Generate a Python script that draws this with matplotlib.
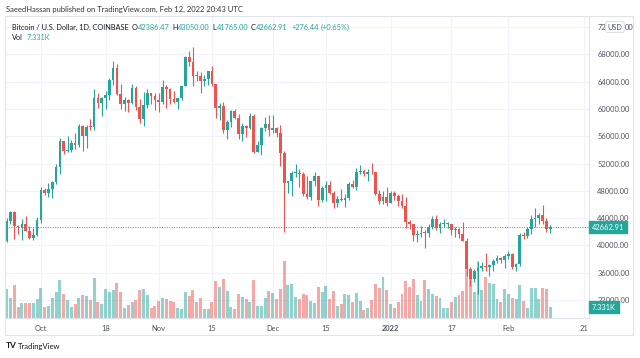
import numpy as np
import pandas as pd
import matplotlib
matplotlib.use('Agg')
import matplotlib.pyplot as plt
import matplotlib.dates as mdates
from matplotlib.transforms import blended_transform_factory
from matplotlib.patches import Rectangle

plt.rcParams['font.family'] = ['Lato', 'DejaVu Sans']

# daily candles, COINBASE BTC/USD
dates = pd.date_range('2021-09-22', '2022-02-12', freq='D')

opens = [40600, 43570, 44890, 42840, 42720, 43200, 42180, 41040, 41520,
         43790, 48140, 47660, 48230, 49250, 51500, 55340, 53800, 53950, 54960,
         54680, 57480, 56000, 57370, 57350, 61670, 60880, 61530, 62040, 64300,
         66000, 62250, 60690, 61310, 60860, 63080, 60330, 58450, 60600, 62270,
         61880,
         61320, 60950, 63230, 62930, 61440, 61010, 61530, 63300, 67550, 66940,
         64880, 64780, 64150, 64390, 65500, 63600, 60100, 60360, 56900, 58100,
         59700, 58700, 56280, 57560, 57150, 58960, 53730, 54720, 57270, 57800,
         56980, 57220, 56500, 53600, 49200, 49400, 50580, 50640, 50500, 47550,
         47150, 49400, 50100, 46700, 48350, 48900, 47650, 46200, 46850, 46700,
         46880, 48950, 48600, 50820, 50850, 50430, 50800, 50700, 47550, 46450,
         47150,
         46200, 47750, 47300, 46450, 45830, 43450, 43100, 41550, 41680, 41850,
         41820, 42730, 43900, 42590, 43100, 43180, 43200, 42230, 42380, 41680,
         40700, 36470, 35050, 36280, 36680, 36960, 36830, 37160, 37720, 38170,
         37920,
         38480, 38740, 36900, 37330, 41570, 41400, 42400, 43850, 44050, 44400,
         43550, 42386.47]
highs = [44000, 44980, 45100, 42960, 43940, 44350, 42780, 42600, 44100,
         48500, 48350, 49150, 49500, 51900, 55750, 55350, 56100, 55450, 56500,
         57800, 57650, 57700, 58500, 62900, 62350, 61700, 62600, 64500, 67000,
         66650, 63700, 61750, 61490, 63700, 63290, 61500, 62500, 62950, 62300,
         62400,
         62400, 64300, 63550, 63100, 62600, 61560, 63300, 67800, 68530, 69000,
         65600, 65450, 64950, 65600, 66300, 63600, 60800, 60950, 58350, 59850,
         60000, 59250, 57880, 57700, 59400, 59200, 55300, 57400, 58850, 59150,
         59050, 57400, 57600, 53900, 49500, 50900, 51950, 51200, 50800, 50100,
         49500, 50800, 50200, 48700, 49500, 49450, 48000, 47300, 48300, 47550,
         49300, 49550, 51350, 51800, 51150, 51250, 52050, 50700, 48100, 47900,
         48550,
         47950, 47950, 47550, 47500, 47050, 43750, 43150, 42300, 42800, 42250,
         43100, 44300, 44450, 43450, 43800, 43500, 43200, 42700, 42600, 43500,
         41100, 36850, 36500, 37550, 37550, 38950, 37250, 38000, 38650, 38350,
         38750,
         39250, 38850, 37400, 41750, 41950, 42650, 44500, 45500, 44800, 45850,
         43950, 43050]
lows = [40550, 43080, 40900, 41700, 40800, 42120, 40920, 40760, 41420,
        43300, 47450, 47150, 46900, 49050, 50400, 53400, 53650, 53700, 54100,
        54450, 53880, 54300, 56850, 56850, 60150, 58950, 60000, 61350, 63500,
        62000, 60000, 59700, 59550, 60660, 59820, 58000, 57450, 60200, 60700,
        59900,
        59500, 60700, 60100, 60700, 60800, 60050, 61350, 63300, 66350, 63300,
        64140, 62300, 63350, 63550, 63400, 58600, 58400, 56500, 55600, 57400,
        58500, 55650, 55300, 55850, 57000, 53550, 53650, 53300, 56700, 56000,
        56500, 55850, 51700, 42000, 47700, 47300, 50050, 48600, 47300, 46850,
        46650, 48650, 45700, 46300, 46550, 47550, 45500, 45600, 46450, 45600,
        46650, 48450, 48050, 50450, 50200, 49450, 50450, 47350, 46100, 46000,
        45700,
        46200, 46700, 45700, 45500, 42500, 42450, 40600, 40500, 41200, 39650,
        41300, 42450, 42300, 41750, 42650, 42600, 41550, 41250, 41100, 40600,
        35500, 34000, 34650, 32950, 36200, 36250, 35500, 36200, 37350, 37350,
        36650,
        38000, 36600, 36250, 37050, 40950, 41150, 41650, 42700, 43150, 43200,
        42000, 41765]
closes = [43570, 44890, 42840, 42720, 43200, 42180, 41040, 41520, 43790,
          48140, 47660, 48230, 49250, 51500, 55340, 53800, 53950, 54960, 54680,
          57480, 56000, 57370, 57350, 61670, 60880, 61530, 62040, 64300, 66000,
          62250, 60690, 61310, 60860, 63080, 60330, 58450, 60600, 62270, 61880,
          61320,
          60950, 63230, 62930, 61440, 61010, 61530, 63300, 67550, 66940, 64880,
          64780, 64150, 64390, 65500, 63600, 60100, 60360, 56900, 58100, 59700,
          58700, 56280, 57560, 57150, 58960, 53730, 54720, 57270, 57800, 56980,
          57220, 56500, 53600, 49200, 49400, 50580, 50640, 50500, 47550, 47150,
          49400, 50100, 46700, 48350, 48900, 47650, 46200, 46850, 46700, 46880,
          48950, 48600, 50820, 50850, 50430, 50800, 50700, 47550, 46450, 47150,
          46200,
          47750, 47300, 46450, 45830, 43450, 43100, 41550, 41680, 41850, 41820,
          42730, 43900, 42590, 43100, 43180, 43200, 42230, 42380, 41680, 40700,
          36470, 35050, 36280, 36680, 36960, 36830, 37160, 37720, 38170, 37920,
          38480,
          38740, 36900, 37330, 41570, 41400, 42400, 43850, 44050, 44400, 43550,
          42390, 42662.91]
# volume in thousands of BTC
volumes = [19.1, 13.1, 22.2, 7.1, 9.8, 9.8, 10.2, 10.2, 12.9,
           20.0, 7.1, 8.0, 13.5, 17.3, 25.5, 15.8, 12.2, 7.1, 9.5, 13.1, 15.3,
           14.5, 12.0, 26.7, 10.5, 9.1, 19.5, 17.1, 18.9, 23.3, 17.1, 6.9, 8.5,
           10.5, 11.8, 18.7, 19.1, 15.5, 6.9, 8.2,
           11.5, 13.5, 12.7, 11.1, 10.7, 6.5, 5.8, 17.3, 14.9, 18.7, 10.5, 13.5,
           6.0, 6.0, 10.5, 24.5, 20.7, 26.2, 18.2, 7.5, 6.2, 15.8, 14.0, 12.5,
           10.7, 25.3, 7.8, 8.0, 13.1, 17.8,
           16.5, 12.7, 19.5, 38.2, 21.8, 22.9, 14.0, 12.9, 15.8, 15.3, 11.1,
           10.2, 20.5, 17.1, 21.1, 12.7, 18.2, 8.2, 9.5, 15.8, 15.3, 10.7, 16.7,
           11.5, 5.5, 6.9, 11.8, 22.9, 20.0, 27.1, 18.7,
           9.5, 6.9, 10.7, 16.2, 24.5, 20.5, 25.8, 15.3, 11.1, 25.1, 19.5, 16.2,
           14.5, 13.1, 6.5, 6.5, 10.7, 13.8, 15.5, 18.0, 36.7, 26.7, 17.3, 38.0,
           18.7, 27.3, 23.3, 22.9, 12.5, 10.7, 19.5,
           16.2, 13.3, 12.9, 22.2, 11.1, 6.5, 20.0, 20.0, 12.9, 20.0, 19.1, 7.331]

tick_dates = ['2021-10-01', '2021-10-18', '2021-11-01', '2021-11-15', '2021-12-01',
              '2021-12-15', '2022-01-01', '2022-01-17', '2022-02-01', '2022-02-21']
tick_labels = ['Oct', '18', 'Nov', '15', 'Dec', '15', '2022', '17', 'Feb', '21']
price_ticks = list(range(32000, 72001, 4000))

GREEN = '#26a69a'
RED = '#ef5350'
TXT = '#131722'

o = np.array(opens, float)
h = np.array(highs, float)
l = np.array(lows, float)
c = np.array(closes, float)
v = np.array(volumes, float)
x = mdates.date2num(dates)
up = c >= o
cols = np.where(up, GREEN, RED)

W, H = 640, 358
fig = plt.figure(figsize=(6.4, 3.58), dpi=100)
L, R, T, B = 6, 589, 16, 318
ax = fig.add_axes([L / W, 1 - B / H, (R - L) / W, (B - T) / H])
axv = ax.twinx()
axv.axis('off')

# volume, drawn inside the price axes but on the volume scale
vtrans = blended_transform_factory(ax.transData, axv.transData)
ax.bar(x, v, width=0.78, bottom=0, color=cols, alpha=0.5, transform=vtrans,
       zorder=1, linewidth=0)

# candles
ax.vlines(x, l, h, colors=cols, linewidth=0.8, zorder=2)
body = np.maximum(np.abs(c - o), 120)
ax.bar(x, body, bottom=np.minimum(o, c), width=0.72, color=cols, zorder=3,
       linewidth=0)

last = c[-1]
ax.axhline(last, color=GREEN, lw=0.7, ls=(0, (1, 1.5)), zorder=1.5)

ax.set_xlim(x[0] - 0.18, x[0] + 153.2)
ax.set_ylim(29363, 73612)
axv.set_ylim(0, 201.3)

ax.set_xticks(mdates.date2num(pd.to_datetime(tick_dates)))
ax.set_xticklabels(tick_labels)
ax.get_xticklabels()[6].set_fontweight('bold')
ax.yaxis.tick_right()
ax.set_yticks(price_ticks)
# the top label is partly hidden behind the USD badge
ax.set_yticklabels([f'{p:.2f}' for p in price_ticks[:-1]] + ['72'])
ax.tick_params(axis='both', length=0, labelsize=5.4, labelcolor='#4c525e')
ax.tick_params(axis='y', pad=6)
ax.tick_params(axis='x', pad=5)
ax.grid(color='#f0f3fa', lw=0.8, zorder=0)
ax.set_axisbelow(True)
for s in ax.spines.values():
    s.set_color('#e0e3eb')
    s.set_linewidth(0.8)
ax.spines['left'].set_visible(False)
ax.spines['top'].set_visible(False)

# outer frame
fig.patches.append(Rectangle((5 / W, 1 - 335 / H), 628 / W, 319 / H,
                             transform=fig.transFigure, fill=False,
                             ec='#e0e3eb', lw=0.8))

# right-scale labels
ytr = blended_transform_factory(ax.transAxes, ax.transData)
ax.text(1.0 + 3 / (R - L), last, '42662.91', transform=ytr, color='white',
        fontsize=5.4, va='center', ha='left', clip_on=False, zorder=10,
        bbox=dict(boxstyle='square,pad=0.35', fc=GREEN, ec=GREEN))
vtr = blended_transform_factory(ax.transAxes, axv.transData)
ax.text(1.0 + 3 / (R - L), v[-1], '7.331K', transform=vtr, color='white',
        fontsize=5.4, va='center', ha='left', clip_on=False, zorder=10,
        bbox=dict(boxstyle='square,pad=0.35', fc=GREEN, ec=GREEN))
ax.text(1.0 + 26 / (R - L), 72000, 'USD', transform=ytr, color='#4c525e',
        fontsize=5.2, va='center', ha='center', clip_on=False, zorder=10,
        bbox=dict(boxstyle='round,pad=0.25', fc='white', ec='#d1d4dc', lw=0.6))
ax.text(1.0 + 36 / (R - L), 72000, '00', transform=ytr, color='#4c525e',
        fontsize=5.4, va='center', ha='left', clip_on=False, zorder=10)

# header texts
fig.text(6 / W, 1 - 9 / H,
         'SaeedHassan published on TradingView.com, Feb 12, 2022 20:43 UTC',
         fontsize=5.5, color='#333333', va='center')

fig.canvas.draw()
rend = fig.canvas.get_renderer()


def write_row(x0, y0, parts, size):
    xp = x0
    for s, col, gap in parts:
        t = fig.text(xp / W, 1 - y0 / H, s, color=col, fontsize=size,
                     va='center', ha='left')
        xp += t.get_window_extent(renderer=rend).width + gap


write_row(11.5, 27, [('Bitcoin / U.S. Dollar, 1D, COINBASE', TXT, 4),
                     ('O', TXT, 0.3), ('42386.47', GREEN, 2.5),
                     ('H', TXT, 0.3), ('43050.00', GREEN, 2.5),
                     ('L', TXT, 0.3), ('41765.00', GREEN, 2.5),
                     ('C', TXT, 0.3), ('42662.91', GREEN, 4),
                     ('+276.44', GREEN, 2), ('(+0.65%)', GREEN, 0)], 5.3)
write_row(11.5, 37.5, [('Vol', TXT, 4), ('7.331K', GREEN, 0)], 5.3)

fig.text(6 / W, 1 - 346 / H, 'TV', fontsize=6, fontweight='bold', color=TXT,
         va='center')
fig.text(18 / W, 1 - 346 / H, 'TradingView', fontsize=5.5, color=TXT,
         va='center')

fig.savefig('out.png', dpi=100)
